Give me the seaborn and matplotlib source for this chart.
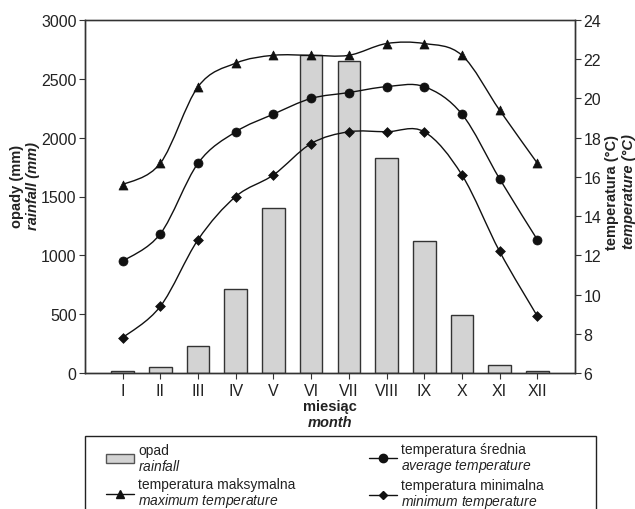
import numpy as np
import pandas as pd
import matplotlib
matplotlib.use("Agg")
import matplotlib.pyplot as plt
import seaborn as sns
from matplotlib.path import Path
from matplotlib.patches import PathPatch, Rectangle, Patch
from matplotlib.lines import Line2D

# ---------------- data ----------------
months = ["I", "II", "III", "IV", "V", "VI", "VII", "VIII", "IX", "X", "XI", "XII"]
rainfall = [20, 50, 230, 715, 1400, 2700, 2650, 1830, 1125, 490, 70, 15]
t_max = [15.6, 16.7, 20.6, 21.8, 22.2, 22.2, 22.2, 22.8, 22.8, 22.2, 19.4, 16.7]
t_avg = [11.7, 13.1, 16.7, 18.3, 19.2, 20.0, 20.3, 20.6, 20.6, 19.2, 15.9, 12.8]
t_min = [7.8, 9.4, 12.8, 15.0, 16.1, 17.7, 18.3, 18.3, 18.3, 16.1, 12.2, 8.9]
rain_ticks = [0, 500, 1000, 1500, 2000, 2500, 3000]
temp_ticks = [6, 8, 10, 12, 14, 16, 18, 20, 22, 24]

sns.set_theme(style="white")
FONT = ["Liberation Sans", "DejaVu Sans"]
plt.rcParams["font.family"] = FONT
plt.rcParams["mathtext.fontset"] = "custom"
plt.rcParams["mathtext.it"] = "Liberation Sans:italic"
plt.rcParams["mathtext.rm"] = "Liberation Sans"
plt.rcParams["mathtext.bf"] = "Liberation Sans:bold"

W, H = 635, 510
fig = plt.figure(figsize=(W / 100, H / 100), dpi=100)
fig.patch.set_facecolor("white")

def fx(px):
    return px / W

def fy(py):
    return 1 - py / H

ax = fig.add_axes([fx(85), fy(374), fx(575) - fx(85), fy(21) - fy(374)])

df = pd.DataFrame({"month": months, "rain": rainfall})
sns.barplot(data=df, x="month", y="rain", order=months, ax=ax, width=0.6,
            color="#d3d3d3", edgecolor="#333333", linewidth=1.0, saturation=1)
ax.set_xlim(-1, len(months))
ax.set_ylim(0, 3000)
ax.set_yticks(rain_ticks)
ax.set_xlabel("")
ax.set_ylabel("")

ax2 = ax.twinx()
ax2.set_ylim(6, 24)
ax2.set_yticks(temp_ticks)
ax2.set_xlim(-1, len(months))

xpos = np.arange(len(months))


def smooth_path(xs, ys):
    pts = np.column_stack([xs, ys]).astype(float)
    n = len(pts)
    verts = [pts[0]]
    codes = [Path.MOVETO]
    for i in range(n - 1):
        p0 = pts[i - 1] if i > 0 else pts[i]
        p1 = pts[i]
        p2 = pts[i + 1]
        p3 = pts[i + 2] if i + 2 < n else pts[i + 1]
        c1 = p1 + (p2 - p0) / 6.0
        c2 = p2 - (p3 - p1) / 6.0
        verts += [c1, c2, p2]
        codes += [Path.CURVE4] * 3
    return Path(verts, codes)


series = [(t_max, "^", 6.5), (t_avg, "o", 6.5), (t_min, "D", 5.0)]
for vals, mk, ms in series:
    ax2.add_patch(PathPatch(smooth_path(xpos, vals), facecolor="none",
                            edgecolor="#111111", lw=1.0, zorder=3))
    sdf = pd.DataFrame({"x": xpos, "y": vals})
    sns.scatterplot(data=sdf, x="x", y="y", ax=ax2, marker=mk, s=ms ** 2,
                    color="#111111", edgecolor="#111111", linewidth=0.5, zorder=4)
ax2.set_xlabel("")
ax2.set_ylabel("")

for a in (ax, ax2):
    for s in a.spines.values():
        s.set_color("#333333")
        s.set_linewidth(1.0)
ax.spines["top"].set_color("#666666")

ax.tick_params(axis="x", direction="out", length=4, width=0.8, color="#333333",
               labelsize=11.5, labelcolor="#222222", pad=3, bottom=True)
ax.tick_params(axis="y", direction="out", length=4, width=0.8, color="#333333",
               labelsize=11.5, labelcolor="#222222", pad=2, left=True)
ax2.tick_params(axis="y", direction="out", length=4, width=0.8, color="#333333",
                labelsize=11.5, labelcolor="#222222", pad=2, right=True)

# axis titles
fig.text(fx(17), fy(186), "opady (mm)", rotation=90, ha="center", va="center",
         fontsize=10.5, fontweight="bold", color="#222222")
fig.text(fx(33), fy(186), "rainfall (mm)", rotation=90, ha="center", va="center",
         fontsize=10.5, fontweight="bold", style="italic", color="#222222")
fig.text(fx(612), fy(192), "temperatura (°C)", rotation=90, ha="center", va="center",
         fontsize=10.5, fontweight="bold", color="#222222")
fig.text(fx(629), fy(192), "temperature (°C)", rotation=90, ha="center", va="center",
         fontsize=10.5, fontweight="bold", style="italic", color="#222222")
fig.text(fx(330), fy(407), "miesiąc", ha="center", va="center",
         fontsize=10.5, fontweight="bold", color="#222222")
fig.text(fx(330), fy(423), "month", ha="center", va="center",
         fontsize=10.5, fontweight="bold", style="italic", color="#222222")

# legend
handles = [
    Patch(facecolor="#d3d3d3", edgecolor="#555555", linewidth=1.0),
    Line2D([], [], color="#111111", lw=1.0, marker="^", ms=5.5),
    Line2D([], [], color="#111111", lw=1.0, marker="o", ms=6),
    Line2D([], [], color="#111111", lw=1.0, marker="D", ms=4.5),
]
labels = [
    "opad\n$\\mathit{rainfall}$",
    "temperatura maksymalna\n$\\mathit{maximum\\ temperature}$",
    "temperatura średnia\n$\\mathit{average\\ temperature}$",
    "temperatura minimalna\n$\\mathit{minimum\\ temperature}$",
]
fig.add_artist(Rectangle((fx(85), fy(520)), fx(596) - fx(85), fy(437) - fy(520),
                         transform=fig.transFigure, facecolor="white",
                         edgecolor="#222222", lw=1.0))
leg = fig.legend(handles, labels, ncol=2, loc="upper left",
                 bbox_to_anchor=(fx(106), fy(443)), frameon=False,
                 fontsize=10, handlelength=2.0, handletextpad=0.3,
                 columnspacing=5.3, labelspacing=0.3, borderpad=0,
                 borderaxespad=0)
for t in leg.get_texts():
    t.set_linespacing(1.05)
    t.set_color("#222222")

fig.savefig("out.png", dpi=100)
